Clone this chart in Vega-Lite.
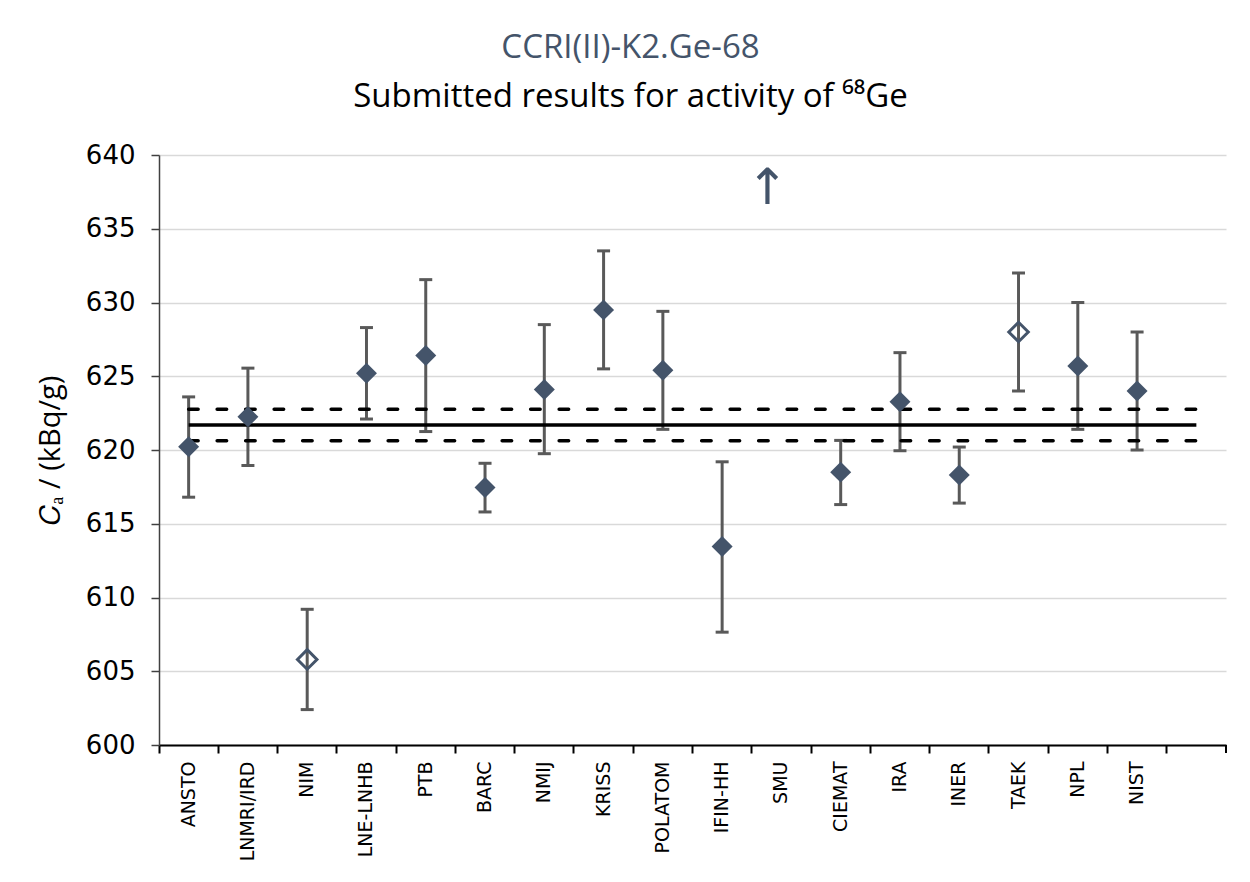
{
  "$schema": "https://vega.github.io/schema/vega-lite/v6.json",
  "width": 1067,
  "height": 590,
  "autosize": "none",
  "padding": {"left": 159, "top": 155, "right": 24, "bottom": 137},
  "background": "white",
  "config": {"view": {"stroke": null}, "font": "DejaVu Sans"},
  "title": {
    "text": "CCRI(II)-K2.Ge-68",
    "subtitle": "Submitted results for activity of ⁶⁸Ge",
    "anchor": "middle",
    "dx": -62,
    "offset": 28,
    "font": "Open Sans",
    "fontSize": 33,
    "fontWeight": "normal",
    "color": "#44546A",
    "subtitleFont": "Open Sans",
    "subtitleFontSize": 33,
    "subtitleColor": "#000000",
    "subtitlePadding": 16
  },
  "datasets": {
    "results": [
      {"cat": "ANSTO", "v": 620.22, "lo": 616.8, "hi": 623.6, "style": "filled"},
      {"cat": "LNMRI/IRD", "v": 622.25, "lo": 618.95, "hi": 625.55, "style": "filled"},
      {"cat": "NIM", "v": 605.8, "lo": 602.4, "hi": 609.2, "style": "hollow"},
      {"cat": "LNE-LNHB", "v": 625.2, "lo": 622.1, "hi": 628.3, "style": "filled"},
      {"cat": "PTB", "v": 626.4, "lo": 621.25, "hi": 631.55, "style": "filled"},
      {"cat": "BARC", "v": 617.45, "lo": 615.8, "hi": 619.1, "style": "filled"},
      {"cat": "NMIJ", "v": 624.1, "lo": 619.75, "hi": 628.5, "style": "filled"},
      {"cat": "KRISS", "v": 629.5, "lo": 625.5, "hi": 633.5, "style": "filled"},
      {"cat": "POLATOM", "v": 625.4, "lo": 621.4, "hi": 629.4, "style": "filled"},
      {"cat": "IFIN-HH", "v": 613.45, "lo": 607.65, "hi": 619.2, "style": "filled"},
      {"cat": "CIEMAT", "v": 618.5, "lo": 616.3, "hi": 620.65, "style": "filled"},
      {"cat": "IRA", "v": 623.27, "lo": 619.95, "hi": 626.6, "style": "filled"},
      {"cat": "INER", "v": 618.3, "lo": 616.4, "hi": 620.2, "style": "filled"},
      {"cat": "TAEK", "v": 628.0, "lo": 624.0, "hi": 632.0, "style": "hollow"},
      {"cat": "NPL", "v": 625.7, "lo": 621.4, "hi": 630.0, "style": "filled"},
      {"cat": "NIST", "v": 624.0, "lo": 620.0, "hi": 628.0, "style": "filled"}
    ],
    "refs": [
      {"from": "ANSTO", "to": " ", "v": 621.7, "kind": "KCRV"},
      {"from": "ANSTO", "to": " ", "v": 622.77, "kind": "upper"},
      {"from": "ANSTO", "to": " ", "v": 620.63, "kind": "lower"}
    ],
    "offscale": [
      {"cat": "SMU", "v": 637.7, "sym": "↑"}
    ],
    "axisend": [
      {"cat": " ", "v": 600}
    ]
  },
  "layer": [
    {
      "data": {"name": "results"},
      "mark": {"type": "rule", "stroke": "#595959", "strokeWidth": 3},
      "encoding": {
        "x": {
          "field": "cat",
          "type": "nominal",
          "scale": {
            "type": "band",
            "domain": ["ANSTO", "LNMRI/IRD", "NIM", "LNE-LNHB", "PTB", "BARC", "NMIJ", "KRISS", "POLATOM", "IFIN-HH", "SMU", "CIEMAT", "IRA", "INER", "TAEK", "NPL", "NIST", " "],
            "paddingInner": 0,
            "paddingOuter": 0
          },
          "axis": {
            "title": null,
            "bandPosition": 0,
            "labelAngle": -90,
            "labelAlign": "right",
            "labelBaseline": "middle",
            "labelFont": "DejaVu Sans",
            "labelFontSize": 19,
            "labelColor": "#000000",
            "labelPadding": 8,
            "domainColor": "#000000",
            "domainWidth": 2,
            "tickColor": "#000000",
            "tickWidth": 2,
            "tickSize": 8,
            "grid": false
          }
        },
        "y": {
          "field": "lo",
          "type": "quantitative",
          "scale": {"domain": [600, 640], "nice": false, "zero": false},
          "axis": {
            "title": "𝐶ₐ / (kBq/g)",
            "titleFont": "Open Sans",
            "titleFontSize": 29,
            "titleFontWeight": "normal",
            "titleColor": "#000000",
            "titlePadding": 20,
            "values": [600, 605, 610, 615, 620, 625, 630, 635, 640],
            "labelFont": "DejaVu Sans",
            "labelFontSize": 26,
            "labelColor": "#000000",
            "labelPadding": 16,
            "domainColor": "#404040",
            "domainWidth": 1.5,
            "tickColor": "#404040",
            "tickWidth": 1.5,
            "tickSize": 8,
            "grid": true,
            "gridColor": "#D9D9D9",
            "gridWidth": 1.5
          }
        },
        "y2": {"field": "hi"}
      }
    },
    {
      "data": {"name": "results"},
      "mark": {"type": "tick", "color": "#595959", "size": 13, "thickness": 3, "orient": "horizontal", "opacity": 1},
      "encoding": {
        "x": {"field": "cat", "type": "nominal"},
        "y": {"field": "lo", "type": "quantitative"}
      }
    },
    {
      "data": {"name": "results"},
      "mark": {"type": "tick", "color": "#595959", "size": 13, "thickness": 3, "orient": "horizontal", "opacity": 1},
      "encoding": {
        "x": {"field": "cat", "type": "nominal"},
        "y": {"field": "hi", "type": "quantitative"}
      }
    },
    {
      "data": {"name": "refs"},
      "transform": [{"filter": "datum.kind === 'KCRV'"}],
      "mark": {"type": "rule", "stroke": "#000000", "strokeWidth": 3.5},
      "encoding": {
        "x": {"field": "from", "type": "nominal"},
        "x2": {"field": "to"},
        "y": {"field": "v", "type": "quantitative"}
      }
    },
    {
      "data": {"name": "refs"},
      "transform": [{"filter": "datum.kind !== 'KCRV'"}],
      "mark": {"type": "rule", "stroke": "#000000", "strokeWidth": 3.5, "strokeDash": [9.5, 19], "strokeCap": "round"},
      "encoding": {
        "x": {"field": "from", "type": "nominal"},
        "x2": {"field": "to"},
        "y": {"field": "v", "type": "quantitative"},
        "detail": {"field": "kind"}
      }
    },
    {
      "data": {"name": "results"},
      "transform": [{"filter": "datum.style === 'filled'"}],
      "mark": {"type": "point", "shape": "diamond", "filled": true, "size": 440, "color": "#44546A", "opacity": 1},
      "encoding": {
        "x": {"field": "cat", "type": "nominal"},
        "y": {"field": "v", "type": "quantitative"}
      }
    },
    {
      "data": {"name": "results"},
      "transform": [{"filter": "datum.style === 'hollow'"}],
      "mark": {"type": "point", "shape": "diamond", "filled": false, "size": 380, "stroke": "#44546A", "strokeWidth": 3, "opacity": 1},
      "encoding": {
        "x": {"field": "cat", "type": "nominal"},
        "y": {"field": "v", "type": "quantitative"}
      }
    },
    {
      "data": {"name": "offscale"},
      "mark": {"type": "text", "font": "DejaVu Sans", "fontSize": 50, "color": "#44546A", "dx": -14, "baseline": "middle", "align": "center"},
      "encoding": {
        "x": {"field": "cat", "type": "nominal"},
        "y": {"field": "v", "type": "quantitative"},
        "text": {"field": "sym"}
      }
    },
    {
      "data": {"name": "axisend"},
      "mark": {"type": "rule", "stroke": "#000000", "strokeWidth": 2, "y2Offset": 8},
      "encoding": {
        "x": {"field": "cat", "type": "nominal", "bandPosition": 1},
        "y": {"field": "v", "type": "quantitative"},
        "y2": {"field": "v"}
      }
    }
  ]
}
